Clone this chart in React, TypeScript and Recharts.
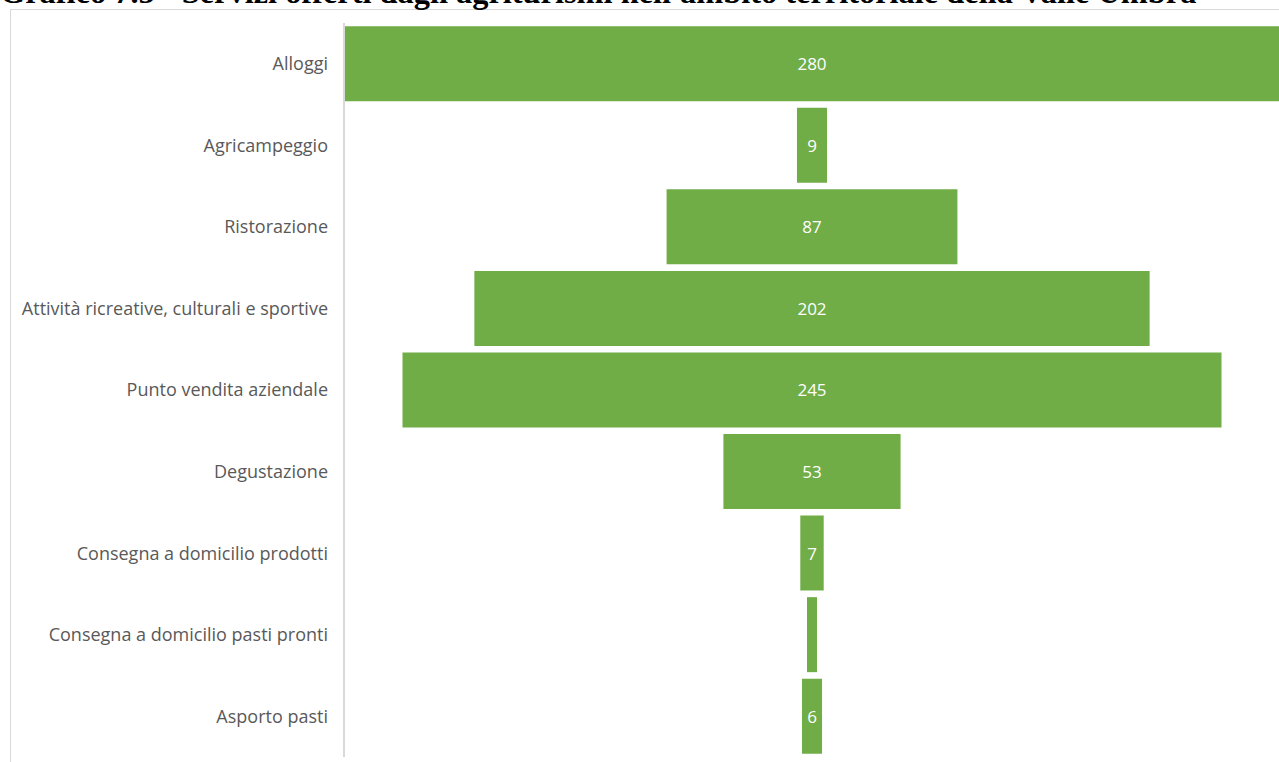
import { BarChart, Bar, XAxis, YAxis, LabelList } from 'recharts';

// Servizi offerti dagli agriturismi - Valle Umbra
const categories = [
  'Alloggi',
  'Agricampeggio',
  'Ristorazione',
  'Attività ricreative, culturali e sportive',
  'Punto vendita aziendale',
  'Degustazione',
  'Consegna a domicilio prodotti',
  'Consegna a domicilio pasti pronti',
  'Asporto pasti',
];
const counts = [280, 9, 87, 202, 245, 53, 7, 3, 6];

const TITLE =
  "Grafico 7.5 - Servizi offerti dagli agriturismi nell'ambito territoriale della Valle Umbra";

const COLORS = {
  bar: '#70ad47',
  label: '#595959',
  border: '#d9d9d9',
};

const FONT = "'Open Sans', Lato, sans-serif";
const MAX = Math.max(...counts);

// funnel: an invisible spacer bar pushes each bar to the centre
const data = categories.map((name, i) => ({
  name,
  spacer: (MAX - counts[i]) / 2,
  value: counts[i],
}));

function ValueLabel(props: any) {
  const { x, y, width, height, value } = props;
  if (width < 14) return null;
  return (
    <text
      x={x + width / 2}
      y={y + height / 2}
      fill="#ffffff"
      fontSize={17}
      fontFamily={FONT}
      textAnchor="middle"
      dominantBaseline="central"
    >
      {value}
    </text>
  );
}

export default function App() {
  return (
    <div
      style={{
        position: 'absolute',
        left: 0,
        top: 0,
        width: 1279,
        height: 762,
        overflow: 'hidden',
        background: '#fff',
      }}
    >
      <div
        style={{
          position: 'absolute',
          left: 10,
          top: 9,
          width: 1400,
          height: 800,
          borderLeft: `1px solid ${COLORS.border}`,
          borderTop: `1px solid ${COLORS.border}`,
          background: '#fff',
        }}
      />
      <div style={{ position: 'absolute', left: 10, top: 9 }}>
        <BarChart
          width={1270}
          height={753}
          data={data}
          layout="vertical"
          margin={{ top: 14, right: 0, bottom: 5, left: 0 }}
          barCategoryGap="4%"
        >
          <XAxis type="number" hide domain={[0, MAX]} />
          <YAxis
            type="category"
            dataKey="name"
            width={334}
            tickLine={false}
            tickSize={0}
            tickMargin={16}
            axisLine={{ stroke: COLORS.border, strokeWidth: 2 }}
            tick={{ fill: COLORS.label, fontSize: 18, fontFamily: FONT }}
            interval={0}
          />
          <Bar dataKey="spacer" stackId="f" fill="transparent" isAnimationActive={false} />
          <Bar dataKey="value" stackId="f" fill={COLORS.bar} isAnimationActive={false}>
            <LabelList dataKey="value" content={<ValueLabel />} />
          </Bar>
        </BarChart>
      </div>
      <div
        style={{
          position: 'absolute',
          left: 0,
          top: -24,
          fontFamily: "'Liberation Serif', 'Times New Roman', serif",
          fontWeight: 'bold',
          fontSize: 32.4,
          lineHeight: 1,
          whiteSpace: 'nowrap',
          color: '#000',
        }}
      >
        {TITLE}
      </div>
    </div>
  );
}
